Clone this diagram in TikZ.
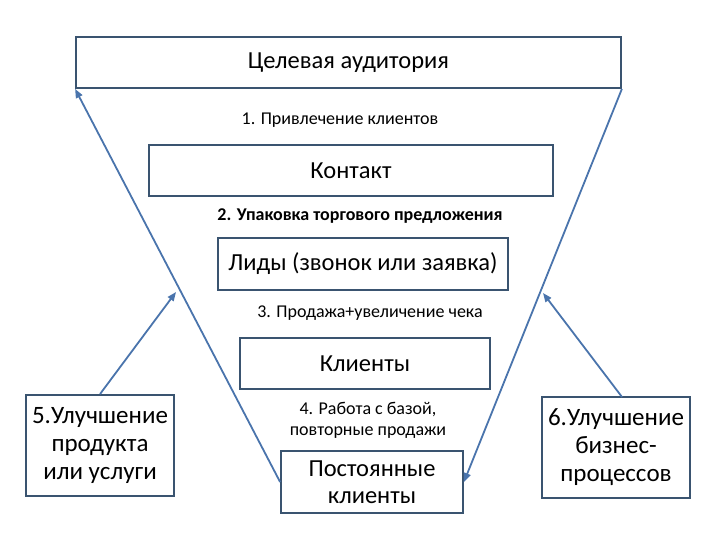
\documentclass[tikz,border=0pt]{standalone}
\usepackage{fontspec}
\setmainfont{Carlito}
\usetikzlibrary{arrows.meta}
\definecolor{boxline}{HTML}{3A5470}
\definecolor{arrowline}{HTML}{4A74AC}
\tikzset{
  box/.style={draw=boxline, line width=1.8pt, fill=white, inner sep=0pt, align=center, font=\fontsize{24.5}{27}\selectfont},
  bigbox/.style={box, font=\fontsize{25}{28}\selectfont},
  lbl/.style={inner sep=0pt, align=center, font=\fontsize{18}{21}\selectfont},
  arr/.style={draw=arrowline, line width=1.8pt, -{Triangle[length=9pt,width=7pt]}}
}
\begin{document}
\begin{tikzpicture}[x=1pt,y=-1pt]
\useasboundingbox (0,0) rectangle (720,540);
\node[box, minimum width=545pt, minimum height=51pt] (top) at (348.5,62.5) {Целевая аудитория};
\node[box, minimum width=404pt, minimum height=51pt] (contact) at (351,170.5) {Контакт};
\node[box, minimum width=290pt, minimum height=52pt] (leads) at (363,264) {Лиды (звонок или заявка)};
\node[box, minimum width=250pt, minimum height=51pt] (clients) at (365,363.5) {Клиенты};
\node[box, minimum width=182pt, minimum height=62pt] (regular) at (372,482) {Постоянные\\клиенты};
\node[bigbox, minimum width=148pt, minimum height=101pt] (b5) at (100,445.5) {5.Улучшение\\продукта\\или услуги};
\node[bigbox, minimum width=148pt, minimum height=101pt] (b6) at (616,447.5) {6.Улучшение\\бизнес-\\процессов};
\node[lbl] (l1) at (340,120) {1. Привлечение клиентов};
\node[lbl, font=\bfseries\fontsize{18}{21}\selectfont] (l2) at (360,216) {2. Упаковка торгового предложения};
\node[lbl] (l3) at (370,313) {3. Продажа+увеличение чека};
\node[lbl] (l4) at (368,420) {4. Работа с базой,\\повторные продажи};
\coordinate (t5) at (176,292);
\coordinate (t6) at (543,293);
\coordinate (s6) at (622,397);
\draw[arr] (regular.west) -- (top.south west);
\draw[arr] (top.south east) -- (regular.east);
\draw[arr] (b5.north) -- (t5);
\draw[arr] (s6) -- (t6);
\end{tikzpicture}
\end{document}
